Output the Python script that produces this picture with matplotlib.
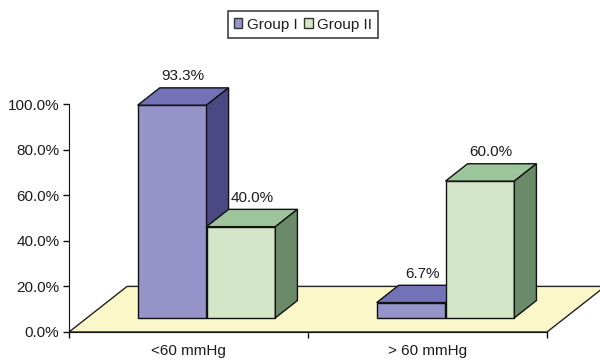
import matplotlib.pyplot as plt
from matplotlib.patches import Polygon, Patch
import numpy as np

plt.rcParams['font.family'] = ['Liberation Sans', 'DejaVu Sans']

categories = ['<60 mmHg', '> 60 mmHg']
groups = ['Group I', 'Group II']
group_1 = [93.3, 6.7]
group_2 = [40.0, 60.0]
yticks = [0, 20, 40, 60, 80, 100]

# face colours: front, top, side
colors = {
    'Group I': ('#9694c9', '#7472b6', '#4b4983'),
    'Group II': ('#d3e7c8', '#9dc59b', '#6a8a69'),
}
floor_color = '#faf7c9'
text_color = '#1c1c1c'
fs = 11

# oblique depth of the floor, in data units
depth_x, depth_y = 0.243, 20.0
front_frac, back_frac = 0.31, 0.69
bar_w = 0.288

fig = plt.figure(figsize=(6, 3.63), dpi=100)
ax = fig.add_axes([0.115, 0.0854, 0.7967, 0.628])
ax.set_xlim(0, 2)
ax.set_ylim(0, 100)

# floor
floor = Polygon([(0, 0), (2, 0), (2 + depth_x, depth_y), (depth_x, depth_y)],
                closed=True, facecolor=floor_color, edgecolor='#222222',
                linewidth=1.0, clip_on=False, zorder=1)
ax.add_patch(floor)

fx, fy = front_frac * depth_x, front_frac * depth_y
ddx = (back_frac - front_frac) * depth_x
ddy = (back_frac - front_frac) * depth_y

x = np.arange(len(categories)) + 0.5 + fx
for gi, (name, vals) in enumerate(zip(groups, [group_1, group_2])):
    front, top, side = colors[name]
    xs = x - bar_w + gi * bar_w
    for xl, v in zip(xs, vals):
        z = 3 + gi
        ax.bar(xl, v, bar_w, bottom=fy, align='edge', color=front,
               edgecolor='#111111', linewidth=1.0, zorder=z, clip_on=False)
        xr = xl + bar_w
        yb, yt = fy, fy + v
        ax.add_patch(Polygon([(xl, yt), (xl + ddx, yt + ddy), (xr + ddx, yt + ddy), (xr, yt)],
                             facecolor=top, edgecolor='#111111', linewidth=1.0,
                             zorder=z, clip_on=False))
        ax.add_patch(Polygon([(xr, yb), (xr + ddx, yb + ddy), (xr + ddx, yt + ddy), (xr, yt)],
                             facecolor=side, edgecolor='#111111', linewidth=1.0,
                             zorder=z, clip_on=False))
        ax.text(xl + bar_w / 2 + ddx / 2, yt + ddy + 5.0, f'{v:.1f}%',
                ha='center', va='center', fontsize=fs, color=text_color,
                zorder=10, clip_on=False)

# axes
for s in ['top', 'right']:
    ax.spines[s].set_visible(False)
ax.spines['left'].set_color('#111111')
ax.spines['bottom'].set_color('#111111')
ax.spines['bottom'].set_zorder(2)
ax.set_yticks(yticks)
ax.set_yticklabels([f'{t:.1f}%' for t in yticks], fontsize=fs, color=text_color)
ax.tick_params(axis='y', length=4, width=1, pad=3, colors='#111111', labelcolor=text_color)
ax.set_xticks([0, 1, 2])
ax.set_xticklabels([])
ax.set_xticks([0.5, 1.5], minor=True)
ax.set_xticklabels(categories, minor=True, fontsize=fs, color=text_color)
ax.tick_params(axis='x', which='major', length=4, width=1, colors='#111111')
ax.tick_params(axis='x', which='minor', length=0, pad=9)
ax.patch.set_visible(False)

handles = [Patch(facecolor=colors[g][0], edgecolor='#333333', linewidth=1.0) for g in groups]
fig.legend(handles, groups, loc='center', bbox_to_anchor=(0.505, 0.9325), ncol=2,
           fontsize=fs, frameon=True, fancybox=False, edgecolor='#111111',
           handlelength=0.55, handleheight=0.55, handletextpad=0.3, columnspacing=0.45,
           borderpad=0.4, labelcolor=text_color).get_frame().set_linewidth(1.2)

fig.savefig('out.png', dpi=100)
